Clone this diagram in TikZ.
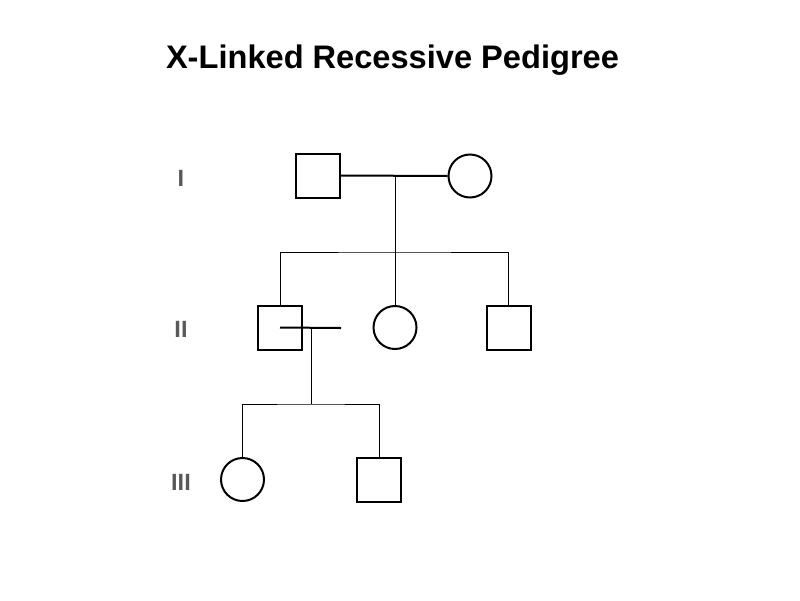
\documentclass[tikz,border=0pt]{standalone}
\usepackage{fontspec}
\setmainfont{Liberation Sans}
\usepackage{tikz}
\usetikzlibrary{positioning}

\begin{document}
\begin{tikzpicture}[
  x=1pt, y=-1pt,
  male/.style={draw, rectangle, line width=2pt, minimum size=44pt, inner sep=0pt},
  female/.style={draw, circle, line width=2pt, minimum size=43pt, inner sep=0pt},
  genlabel/.style={text={rgb,255:red,89;green,89;blue,89}, font=\fontsize{23.5}{26}\selectfont\bfseries},
  mate/.style={line width=2pt},
  kin/.style={line width=1pt}
]
  \useasboundingbox (0,0) rectangle (800,600);
  \node[font=\fontsize{32.6}{38}\selectfont\bfseries] (title) at (392.5,60) {X-Linked Recessive Pedigree};

  % generation labels
  \node[genlabel] (genI)   at (181,178) {I};
  \node[genlabel] (genII)  at (181,329) {II};
  \node[genlabel] (genIII) at (181,482) {III};

  % generation I
  \node[male]   (I1) at (318,175.5) {};
  \node[female] (I2) at (470,176) {};
  \draw[mate] (I1.east) -- (I2.west);
  \coordinate (I12) at (395,176);
  \coordinate (sibI) at (395,252);
  \draw[kin] (I12) -- (sibI);

  % generation II
  \node[male]   (II1) at (280,327.5) {};
  \node[female] (II2) at (395,327.5) {};
  \node[male]   (II3) at (508.5,327.5) {};
  \draw[kin] (II1.north) |- (sibI) -| (II3.north);
  \draw[kin] (sibI) -- (II2.north);
  \coordinate (II1m) at (341,328);
  \draw[mate] (II1.center) -- (II1m);
  \coordinate (II1d) at (311,328);
  \coordinate (sibII) at (311,404);
  \draw[kin] (II1d) -- (sibII);

  % generation III
  \node[female] (III1) at (242.5,479.5) {};
  \node[male]   (III2) at (379,479.5) {};
  \draw[kin] (III1.north) |- (sibII) -| (III2.north);
\end{tikzpicture}
\end{document}
